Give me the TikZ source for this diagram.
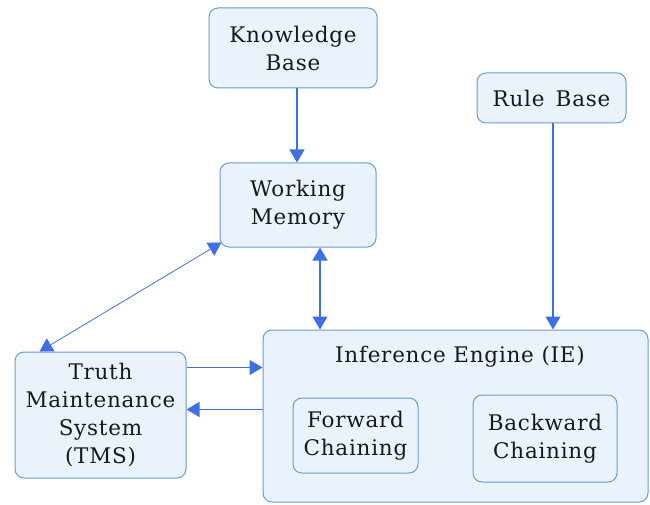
\documentclass[tikz,border=0pt]{standalone}
\usepackage{fontspec}
\setmainfont{DejaVu Serif}[LetterSpace=3.5]
\usetikzlibrary{arrows.meta,calc}
\definecolor{boxfill}{HTML}{EAF3FC}
\definecolor{boxline}{HTML}{6A9BD4}
\definecolor{arrblue}{HTML}{3F6FE6}
\tikzset{
  lbl/.style={font=\fontsize{21.5}{28}\selectfont, text=black!90},
  box/.style={lbl, draw=boxline, fill=boxfill, line width=1pt, rounded corners=9pt,
    align=center, inner sep=0pt},
  arr/.style={draw=arrblue, line width=1.3pt, -{Triangle[width=15pt,length=13pt]}},
  darr/.style={draw=arrblue, line width=1.3pt, {Triangle[width=15pt,length=13pt]}-{Triangle[width=15pt,length=13pt]}},
  thinarr/.style={draw=arrblue, line width=0.8pt, {Triangle[width=15pt,length=13pt]}-{Triangle[width=15pt,length=13pt]}}
}
\begin{document}
\begin{tikzpicture}[x=1pt,y=-1pt]
\useasboundingbox (0,0) rectangle (650,505);
\node[box, minimum width=168pt, minimum height=80pt] (kb) at (293,48) {Knowledge\\Base};
\node[box, minimum width=156pt, minimum height=84pt] (wm) at (298,205) {Working\\Memory};
\node[box, minimum width=149pt, minimum height=50pt] (rb) at (551.5,98) {Rule\, Base};
\node[box, minimum width=171pt, minimum height=126pt] (tms) at (100.5,415) {Truth\\Maintenance\\System\\(TMS)};
\node[box, minimum width=385pt, minimum height=172pt] (ie) at (455.5,416) {};
\node[lbl] (iel) at (460,357) {Inference Engine (IE)};
\node[box, minimum width=125pt, minimum height=75pt] (fc) at (355.5,435.5) {Forward\\Chaining};
\node[box, minimum width=144pt, minimum height=87pt] (bc) at (545,438.5) {Backward\\Chaining};
\draw[arr] ([xshift=4pt]kb.south) -- ([xshift=-1pt]wm.north);
\draw[arr] ([xshift=1.5pt]rb.south) -- ([xshift=1.5pt]rb.south |- ie.north);
\draw[darr] ([xshift=22pt]wm.south) -- ([xshift=22pt]wm.south |- ie.north);
\draw[thinarr] ([shift={(2pt,5pt)}]wm.south west) -- ([xshift=25pt]tms.north west);
\draw[arr] ([yshift=-16pt]tms.north east) -- ([yshift=-16pt]tms.north east -| ie.west);
\draw[arr] ([yshift=-58pt]tms.north east -| ie.west) -- ([yshift=-58pt]tms.north east);
\end{tikzpicture}
\end{document}
